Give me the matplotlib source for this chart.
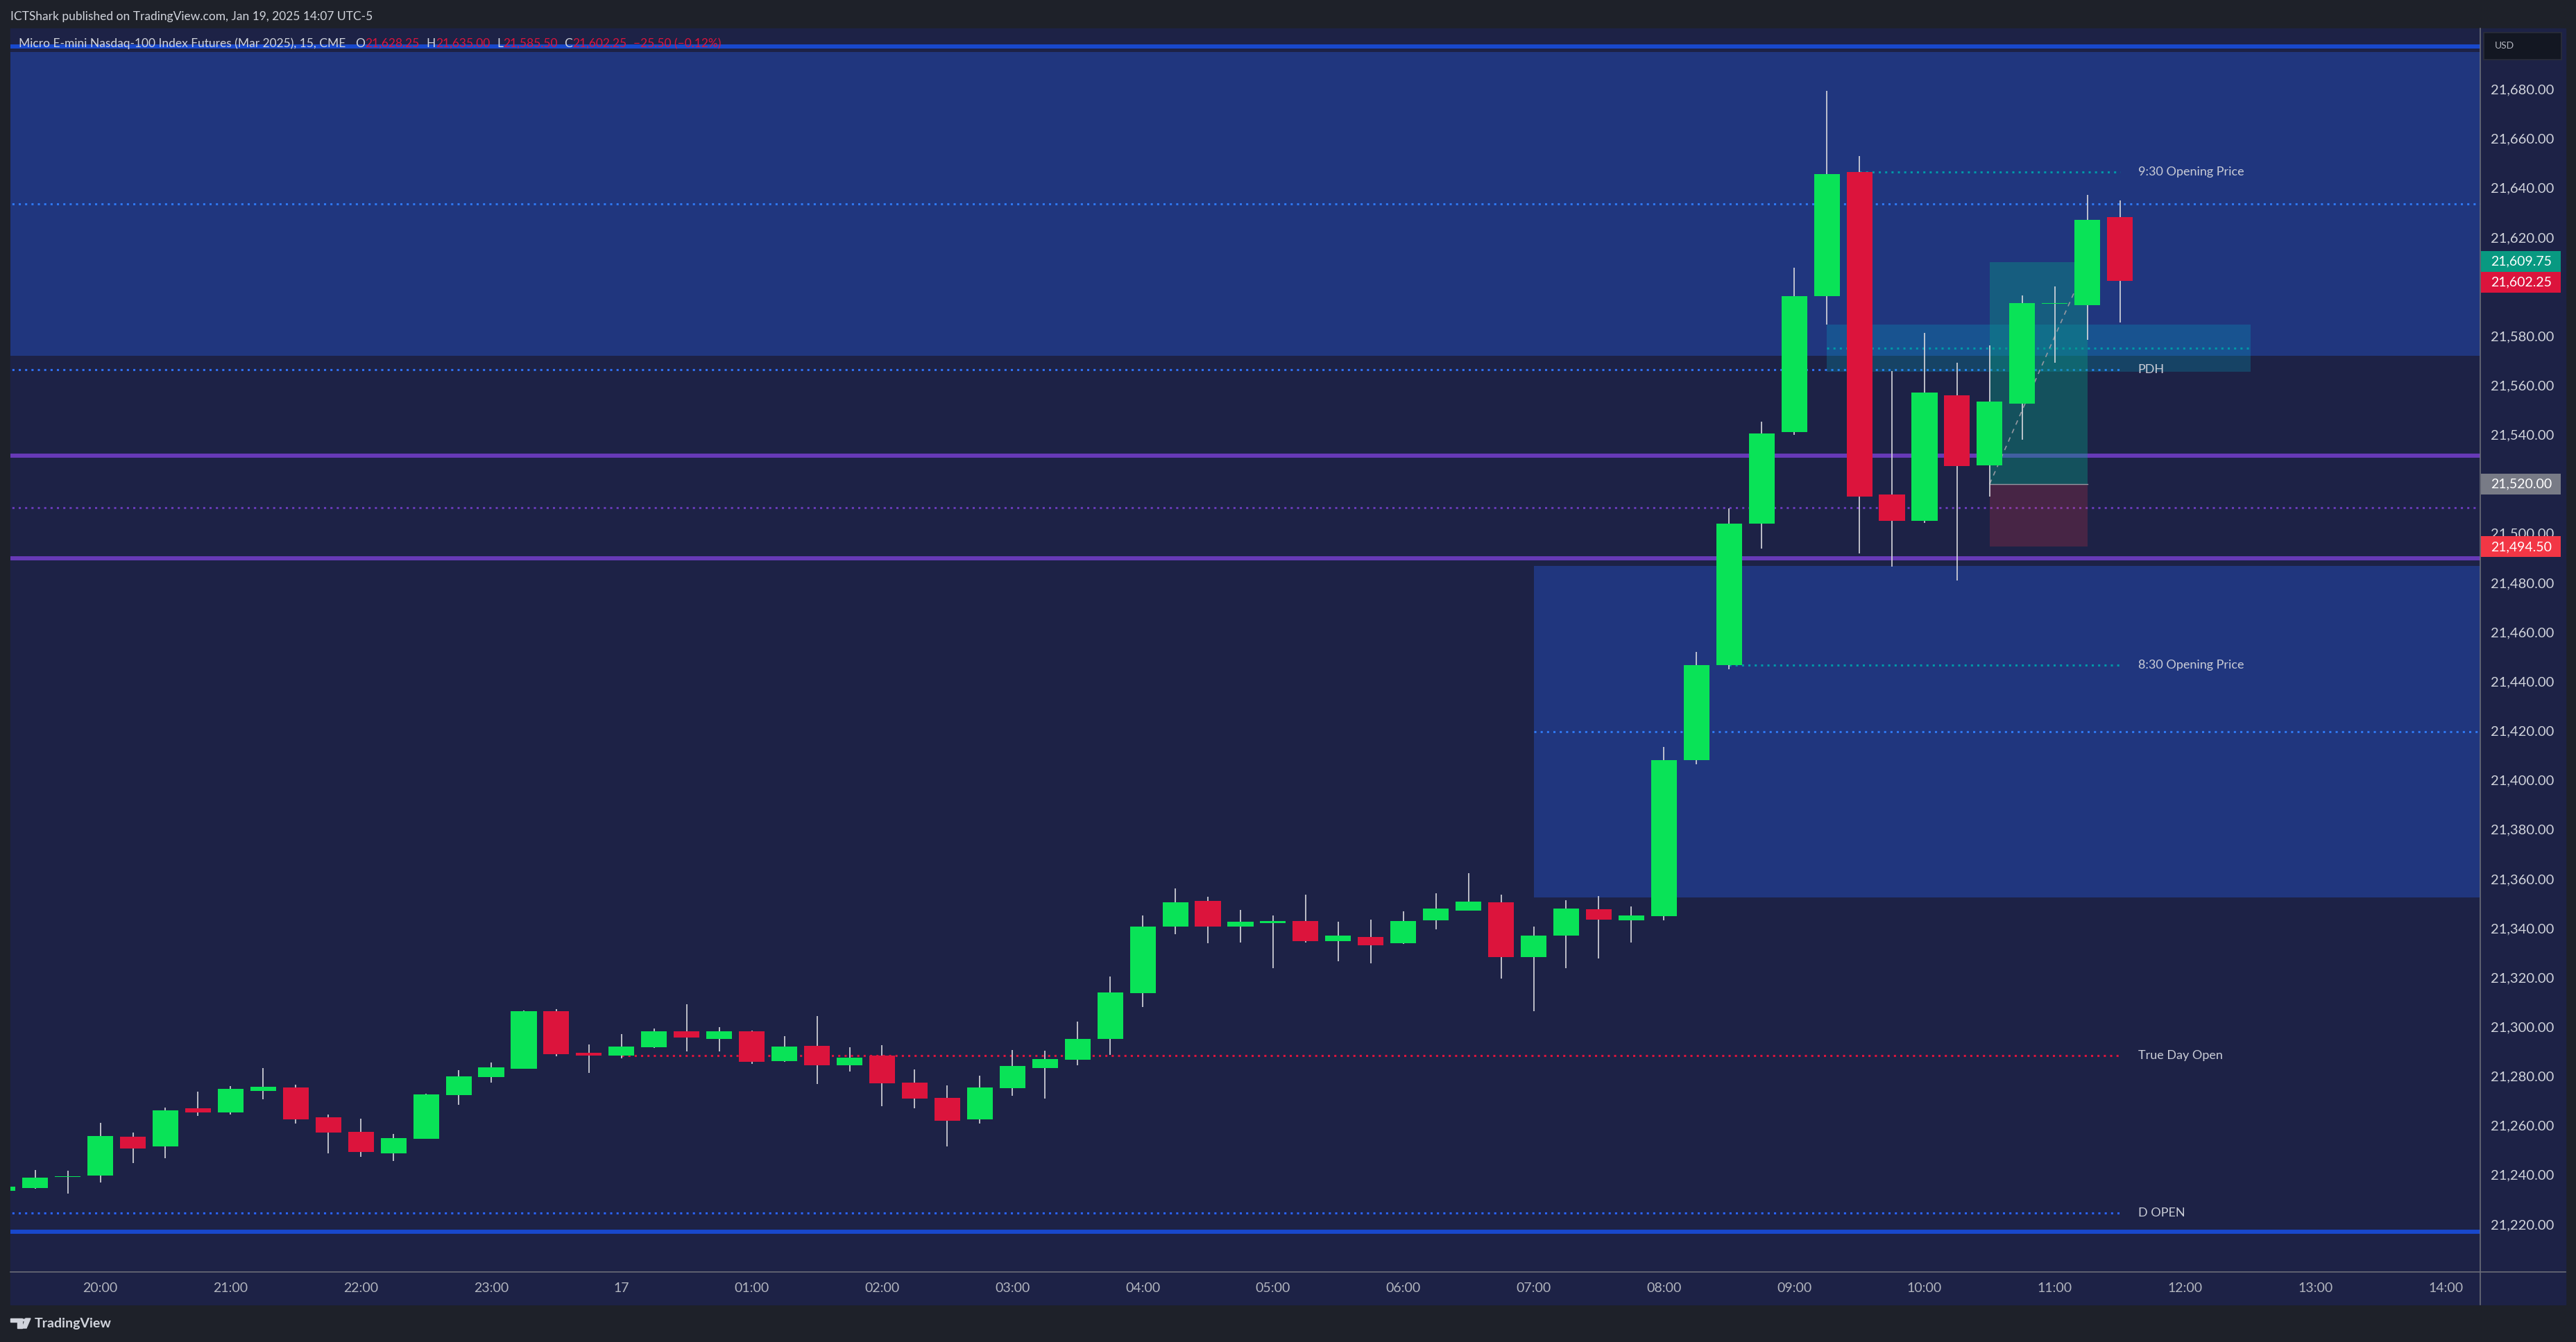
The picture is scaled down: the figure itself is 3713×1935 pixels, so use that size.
import numpy as np
import matplotlib.pyplot as plt
from matplotlib.patches import Rectangle, Circle, Polygon
from matplotlib.lines import Line2D
from matplotlib.transforms import blended_transform_factory

plt.rcParams['font.family'] = ['Lato', 'DejaVu Sans']

W, H = 3713, 1935

# 15 minute bars, index 0 = the 20:00 bar
bar_idx = np.arange(-3, 63)
opens = [21233.5, 21234.5, 21239.0, 21239.75, 21255.5, 21251.5, 21267.0, 21265.25, 21274.0, 21275.5,
         21263.25, 21257.25, 21248.75, 21254.5, 21272.25, 21279.5, 21283.0, 21306.25, 21289.5, 21288.25,
         21291.75, 21298.0, 21295.0, 21298.0, 21286.0, 21292.25, 21284.5, 21288.25, 21277.25, 21271.25,
         21262.5, 21275.0, 21283.25, 21286.5, 21295.0, 21313.5, 21340.5, 21351.0, 21340.5, 21342.0,
         21342.75, 21334.75, 21336.25, 21333.75, 21343.0, 21347.0, 21350.5, 21328.25, 21337.0, 21347.75,
         21343.25, 21344.75, 21408.0, 21446.5, 21504.0, 21541.0, 21596.0, 21646.5, 21515.75, 21505.0,
         21556.0, 21527.5, 21552.5, 21593.0, 21592.5, 21628.25]
highs = [21235.25, 21242.0, 21241.5, 21261.0, 21257.0, 21267.25, 21273.75, 21276.0, 21283.25, 21276.5,
         21264.5, 21262.75, 21256.5, 21272.75, 21282.5, 21285.5, 21306.5, 21307.0, 21292.75, 21297.0,
         21299.25, 21309.0, 21299.75, 21298.5, 21296.25, 21304.25, 21291.75, 21292.5, 21282.75, 21276.25,
         21280.25, 21290.5, 21290.25, 21302.0, 21320.25, 21345.0, 21356.0, 21352.75, 21347.25, 21345.0,
         21353.5, 21342.5, 21343.5, 21346.75, 21354.0, 21362.25, 21353.5, 21340.5, 21351.25, 21353.0,
         21348.75, 21413.5, 21452.0, 21510.0, 21545.25, 21607.75, 21679.25, 21653.0, 21565.75, 21581.25,
         21569.0, 21576.0, 21596.5, 21600.0, 21637.0, 21635.0]
lows = [21233.5, 21234.25, 21232.5, 21237.0, 21244.75, 21246.75, 21263.75, 21264.5, 21270.5, 21260.75,
        21248.75, 21247.25, 21245.5, 21254.5, 21268.25, 21277.25, 21283.0, 21288.0, 21281.25, 21287.25,
        21291.5, 21290.0, 21290.0, 21285.0, 21285.75, 21276.75, 21281.75, 21267.75, 21267.0, 21251.5,
        21260.75, 21272.0, 21271.0, 21284.25, 21288.5, 21308.0, 21337.5, 21333.75, 21334.0, 21323.75,
        21334.0, 21326.5, 21325.75, 21333.5, 21339.5, 21347.0, 21319.5, 21306.25, 21323.75, 21327.75,
        21334.25, 21343.25, 21406.25, 21444.75, 21493.75, 21539.75, 21584.5, 21491.75, 21486.5, 21504.25,
        21480.75, 21515.0, 21538.0, 21569.25, 21578.5, 21585.5]
closes = [21235.25, 21238.75, 21239.5, 21255.75, 21250.5, 21266.0, 21265.25, 21274.75, 21275.75, 21262.5,
          21257.0, 21249.25, 21254.75, 21272.5, 21280.0, 21283.5, 21306.25, 21289.0, 21288.25, 21292.0,
          21298.0, 21295.5, 21298.0, 21285.75, 21292.0, 21284.5, 21287.5, 21277.0, 21270.75, 21261.75,
          21275.5, 21284.0, 21287.0, 21295.0, 21314.0, 21340.5, 21350.5, 21340.5, 21342.5, 21342.75,
          21334.75, 21337.0, 21333.0, 21342.75, 21348.0, 21350.75, 21328.25, 21337.0, 21348.0, 21343.5,
          21345.0, 21408.0, 21446.5, 21504.0, 21540.5, 21596.0, 21645.5, 21515.0, 21505.0, 21557.0,
          21527.25, 21553.5, 21593.25, 21593.25, 21627.0, 21602.25]

time_ticks = np.arange(0, 73, 4)
time_labels = ["20:00", "21:00", "22:00", "23:00", "17", "01:00", "02:00", "03:00", "04:00", "05:00",
               "06:00", "07:00", "08:00", "09:00", "10:00", "11:00", "12:00", "13:00", "14:00"]
price_ticks = np.arange(21220, 21681, 20)
hidden_ticks = [21600]  # covered by the price labels in the original

# levels / zones
upper_zone = (21572.0, 21695.0)
lower_zone = (21352.5, 21486.75)
lower_zone_start = 44
fvg_box = (21565.5, 21584.5)
fvg_span = (53, 66)
blue_lines = [21697.25, 21217.0]
purple_lines = [21531.5, 21489.75]
purple_mid = 21510.5
pdh = 21566.25
d_open = 21224.5
true_day_open = 21288.25
open_830 = 21446.5
open_930 = 21646.5
entry, target, stop = 21520.0, 21609.75, 21494.5
pos_span = (58, 61)
last_price = 21602.25

PANE = "#1d2246"
FRAME = "#1e2129"
ZONE = "#20367e"
GREEN = "#09e357"
RED = "#dc143c"
TXT = "#d1d4dc"

fig = plt.figure(figsize=(W / 100, H / 100), dpi=100, facecolor=FRAME)

def fx(x):
    return x / W

def fy(y):
    return 1 - y / H

# panel background (chart + axes)
fig.patches.append(Rectangle((fx(15), fy(1881)), fx(3698 - 15), (1881 - 41) / H,
                             transform=fig.transFigure, color=PANE, zorder=-5))

ax = fig.add_axes([fx(15), fy(1834), fx(3575 - 15), (1834 - 41) / H])
ax.set_facecolor(PANE)
ax.set_xlim(-2.76, 73.06)
ax.set_ylim(21200.6, 21704.6)
for s in ax.spines.values():
    s.set_visible(False)

dot = (0, (1, 2))
XL, XR = -10, 80

# zones
ax.axhspan(upper_zone[0], upper_zone[1], color=ZONE, lw=0, zorder=1)
ax.add_patch(Rectangle((lower_zone_start, lower_zone[0]), XR - lower_zone_start,
                       lower_zone[1] - lower_zone[0], color=ZONE, lw=0, zorder=1))

# lines
for y in blue_lines:
    ax.plot([XL, XR], [y, y], color="#1848cc", lw=4.3, zorder=2, solid_capstyle='butt')
for y in purple_lines:
    ax.plot([XL, XR], [y, y], color="#673ab7", lw=4.3, zorder=2, solid_capstyle='butt')
ax.plot([XL, XR], [purple_mid] * 2, color="#673ab7", lw=2.2, ls=dot, zorder=2)
ax.plot([XL, XR], [sum(upper_zone) / 2] * 2, color="#2f77f0", lw=2.2, ls=dot, zorder=2)
ax.plot([lower_zone_start, XR], [sum(lower_zone) / 2] * 2, color="#2f77f0", lw=2.2, ls=dot, zorder=2)
ax.plot([XL, 62], [pdh, pdh], color="#2f6ff0", lw=2.2, ls=dot, zorder=2)
ax.plot([XL, 62], [d_open, d_open], color="#2a62f5", lw=2.2, ls=dot, zorder=2)
ax.plot([16, 62], [true_day_open] * 2, color=RED, lw=2.2, ls=dot, zorder=2)
ax.plot([50, 62], [open_830] * 2, color="#0097a7", lw=2.2, ls=dot, zorder=2)
ax.plot([54, 62], [open_930] * 2, color="#0097a7", lw=2.2, ls=dot, zorder=2)

# fvg box
ax.add_patch(Rectangle((fvg_span[0], fvg_box[0]), fvg_span[1] - fvg_span[0], fvg_box[1] - fvg_box[0],
                       color="#00bcd4", alpha=0.22, lw=0, zorder=3))
ax.plot(fvg_span, [sum(fvg_box) / 2] * 2, color="#0097a7", lw=2.2, ls=dot, zorder=3)

# long position tool
ax.add_patch(Rectangle((pos_span[0], entry), pos_span[1] - pos_span[0], target - entry,
                       color="#089981", alpha=0.4, lw=0, zorder=3))
ax.add_patch(Rectangle((pos_span[0], stop), pos_span[1] - pos_span[0], entry - stop,
                       color="#f23645", alpha=0.2, lw=0, zorder=3))
ax.plot(pos_span, [entry, entry], color="#9598a1", lw=1, zorder=3)
ax.plot(pos_span, [entry, target], color="#9598a1", lw=1.2, ls=(0, (4, 4)), zorder=3)

# candles
o = np.array(opens); c = np.array(closes)
up = c >= o
cols = np.where(up, GREEN, RED)
ax.vlines(bar_idx, lows, highs, color="#d9d9de", lw=1.2, zorder=4)
ax.bar(bar_idx, np.maximum(np.abs(c - o), 0.3), width=0.79, bottom=np.minimum(o, c),
       color=cols, lw=0, zorder=5)

# level labels
for txt, y in [("9:30 Opening Price", open_930), ("PDH", pdh), ("8:30 Opening Price", open_830),
               ("True Day Open", true_day_open), ("D OPEN", d_open)]:
    ax.text(62.55, y, txt, color="#c9ccd6", fontsize=13, va='center', ha='left', zorder=6)

# axes ticks
ax.set_xticks(time_ticks)
ax.set_xticklabels(time_labels)
ax.tick_params(axis='x', length=0, pad=10.5, labelsize=14, labelcolor="#b2b5be")
ax.yaxis.tick_right()
ax.set_yticks(price_ticks)
ax.set_yticklabels(["" if v in hidden_ticks else f"{v:,.2f}" for v in price_ticks])
ax.tick_params(axis='y', length=0, pad=10.8, labelsize=14.5, labelcolor=TXT)

# separators
fig.add_artist(Line2D([fx(15), fx(3698)], [fy(1834), fy(1834)], color="#6a6d78", lw=1.2))
fig.add_artist(Line2D([fx(3575), fx(3575)], [fy(41), fy(1881)], color="#6a6d78", lw=1.2))

# price labels on axis
bt = blended_transform_factory(fig.transFigure, ax.transData)
bh = 30 / 3.5576
mid = (target + last_price) / 2
for val, yc, col in [(target, mid + bh / 2, "#089981"), (last_price, mid - bh / 2, RED),
                     (entry, entry, "#787b86"), (stop, stop, "#f23645")]:
    fig.add_artist(Rectangle((fx(3576), yc - bh / 2), fx(3691 - 3576), bh, transform=bt,
                             color=col, lw=0, zorder=5))
    fig.text(fx(3590), yc, f"{val:,.2f}", transform=bt, color="white", fontsize=14,
             va='center', ha='left', zorder=6)

# USD box
fig.add_artist(Rectangle((fx(3580), fy(86)), fx(112), 39 / H, transform=fig.transFigure,
                         facecolor="#131722", edgecolor="#2a2e39", lw=1.2, zorder=5))
fig.text(fx(3596), fy(66), "USD", color="#b2b5be", fontsize=10, va='center', ha='left', zorder=6)

# header
fig.text(fx(15), fy(24), "ICTShark published on TradingView.com, Jan 19, 2025 14:07 UTC-5",
         color=TXT, fontsize=12.5, va='center', ha='left')
r = fig.canvas.get_renderer()
xpos = 27
parts = [("Micro E-mini Nasdaq-100 Index Futures (Mar 2025), 15, CME", TXT, 14),
         ("O", TXT, 0), ("21,628.25", RED, 10), ("H", TXT, 0), ("21,635.00", RED, 10),
         ("L", TXT, 0), ("21,585.50", RED, 10), ("C", TXT, 0), ("21,602.25", RED, 10),
         ("\u221225.50 (\u22120.12%)", RED, 0)]
for s, col, gap in parts:
    t = fig.text(fx(xpos), fy(63), s, color=col, fontsize=12.5, va='center', ha='left', zorder=6)
    xpos += t.get_window_extent(renderer=r).width + gap

# footer logo
fig.add_artist(Polygon([(fx(15), fy(1901)), (fx(32), fy(1901)), (fx(32), fy(1915)), (fx(25), fy(1915)),
                        (fx(25), fy(1906)), (fx(15), fy(1906))], closed=True, color=TXT))
fig.add_artist(Circle((fx(35), fy(1903.5)), 2.6 / W, transform=fig.transFigure, color=TXT))
fig.add_artist(Polygon([(fx(37), fy(1901)), (fx(44), fy(1901)), (fx(38), fy(1915)), (fx(32), fy(1915))],
                       closed=True, color=TXT))
fig.text(fx(50), fy(1908), "TradingView", color=TXT, fontsize=14, fontweight='bold',
         va='center', ha='left')

fig.savefig("out.png", dpi=100, facecolor=FRAME)
